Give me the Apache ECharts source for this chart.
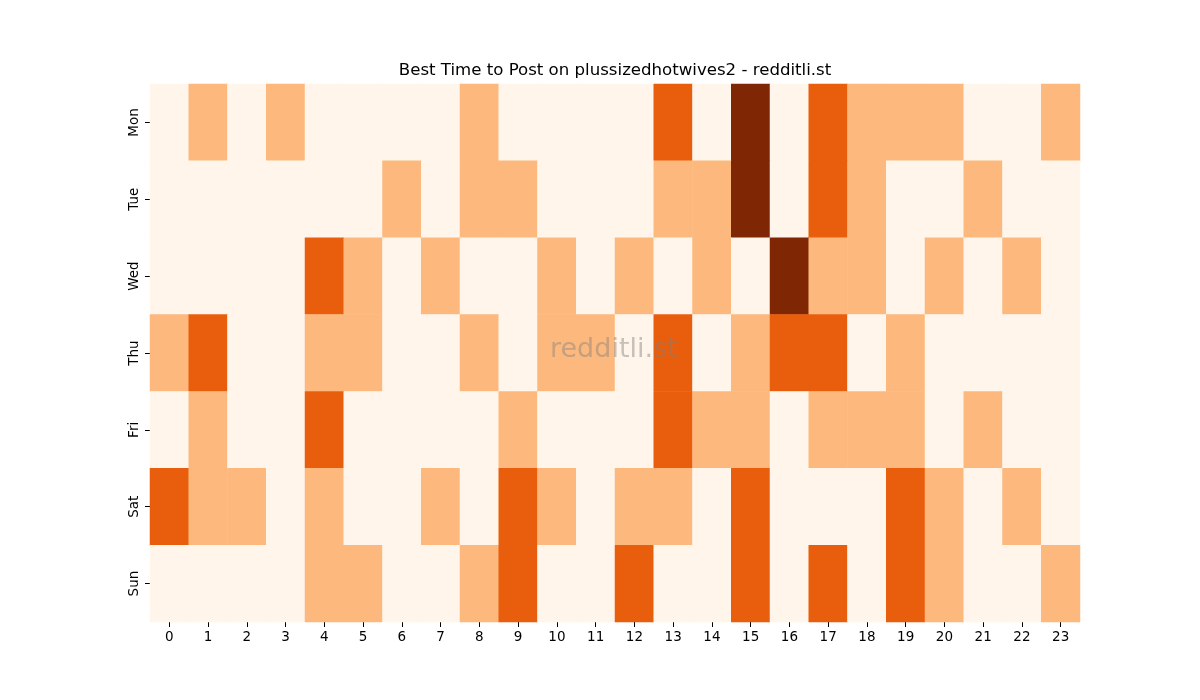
<!DOCTYPE html>
<html>
<head>
<meta charset="utf-8">
<script src="https://cdn.jsdelivr.net/npm/echarts@6/dist/echarts.min.js"></script>
<style>
  html, body { margin: 0; padding: 0; background: #fff; }
  #heatmap { width: 1200px; height: 700px; }
</style>
</head>
<body>
<div id="heatmap"></div>
<script>
// Hours and days
var hours = ['0','1','2','3','4','5','6','7','8','9','10','11','12','13','14','15','16','17','18','19','20','21','22','23'];
var days = ['Mon', 'Tue', 'Wed', 'Thu', 'Fri', 'Sat', 'Sun'];

// Activity level per hour, one array per day
var mon = [0,1,0,1,0,0,0,0,1,0,0,0,0,2,0,3,0,2,1,1,1,0,0,1];
var tue = [0,0,0,0,0,0,1,0,1,1,0,0,0,1,1,3,0,2,1,0,0,1,0,0];
var wed = [0,0,0,0,2,1,0,1,0,0,1,0,1,0,1,0,3,1,1,0,1,0,1,0];
var thu = [1,2,0,0,1,1,0,0,1,0,1,1,0,2,0,1,2,2,0,1,0,0,0,0];
var fri = [0,1,0,0,2,0,0,0,0,1,0,0,0,2,1,1,0,1,1,1,0,1,0,0];
var sat = [2,1,1,0,1,0,0,1,0,2,1,0,1,1,0,2,0,0,0,2,1,0,1,0];
var sun = [0,0,0,0,1,1,0,0,1,2,0,0,2,0,0,2,0,2,0,2,1,0,0,1];

var rows = [mon, tue, wed, thu, fri, sat, sun];

var chart = echarts.init(document.getElementById('heatmap'));

// build [x, y, value] triples
var cells = [];
for (var d = 0; d < rows.length; d++) {
    for (var h = 0; h < rows[d].length; h++) {
        cells.push([h, d, rows[d][h]]);
    }
}

chart.setOption({
    animation: false,
    textStyle: { fontFamily: 'DejaVu Sans, sans-serif' },
    title: {
        text: 'Best Time to Post on plussizedhotwives2 - redditli.st',
        left: 610,
        textAlign: 'center',
        top: 57,
        textStyle: { fontSize: 16.6, fontWeight: 'normal', color: '#000', fontFamily: 'DejaVu Sans' }
    },
    grid: { left: 150, right: 120, top: 84, bottom: 78 },
    xAxis: {
        type: 'category',
        data: hours,
        axisLine: { show: false },
        axisTick: { show: true, alignWithLabel: true, length: 5, lineStyle: { color: '#000' } },
        axisLabel: { color: '#000', fontSize: 13.5, margin: 8, interval: 0 },
        splitArea: { show: false }
    },
    yAxis: {
        type: 'category',
        data: days,
        inverse: true,
        axisLine: { show: false },
        axisTick: { show: true, alignWithLabel: true, length: 5, lineStyle: { color: '#000' } },
        axisLabel: { color: '#000', fontSize: 13.5, rotate: 90, margin: 9, interval: 0 }
    },
    visualMap: {
        show: false,
        type: 'piecewise',
        pieces: [
            { value: 0, color: '#fff5eb' },
            { value: 1, color: '#fdb97d' },
            { value: 2, color: '#e95e0d' },
            { value: 3, color: '#7f2704' }
        ]
    },
    graphic: [{
        type: 'text',
        left: 550,
        top: 336,
        z: 100,
        style: {
            text: 'redditli.st',
            fontSize: 27,
            fontFamily: 'DejaVu Sans',
            fill: 'rgba(128,128,128,0.45)'
        }
    }],
    series: [{
        type: 'heatmap',
        data: cells,
        itemStyle: { borderWidth: 0 },
        emphasis: { disabled: true }
    }]
});
</script>
</body>
</html>
